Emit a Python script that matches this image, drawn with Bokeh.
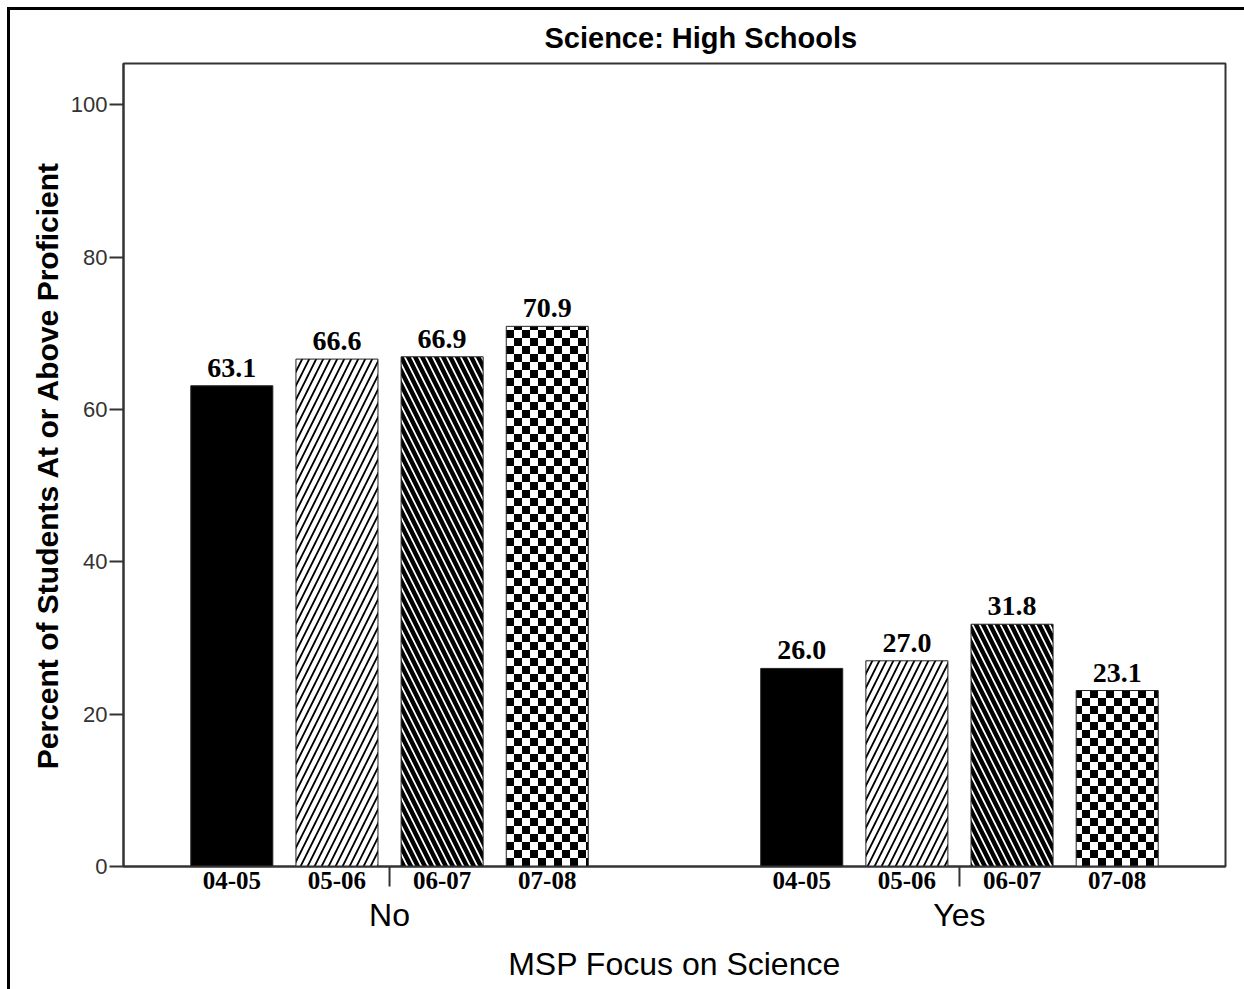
from bokeh.plotting import figure
from bokeh.models import FactorRange, Range1d, ColumnDataSource, CanvasTexture
from bokeh.core.properties import value
from bokeh.embed import file_html
from bokeh.resources import INLINE

# ---- data -------------------------------------------------------------
groups = ["No", "Yes"]
years = ["04-05", "05-06", "06-07", "07-08"]
pct_no = [63.1, 66.6, 66.9, 70.9]
pct_yes = [26.0, 27.0, 31.8, 23.1]
y_ticks = [0, 20, 40, 60, 80, 100]

# ---- styling per school year -------------------------------------------
fill_by_year = {"04-05": "black", "05-06": "white", "06-07": "black", "07-08": "white"}
hatch_by_year = {"04-05": "blank", "05-06": "right_diagonal_line",
                 "06-07": "left_diagonal_line", "07-08": "checker"}
hatch_color_by_year = {"04-05": "black", "05-06": "black", "06-07": "white", "07-08": "black"}
hatch_scale_by_year = {"04-05": 14, "05-06": 14, "06-07": 14, "07-08": 16}
hatch_weight_by_year = {"04-05": 1, "05-06": 1.8, "06-07": 1.8, "07-08": 1}

factors = [(g, yr) for g in groups for yr in years]
values = pct_no + pct_yes
yrs = [yr for _, yr in factors]

src = ColumnDataSource(dict(
    x=factors,
    top=values,
    label=[f"{v:.1f}" for v in values],
    fill=[fill_by_year[y] for y in yrs],
    hatch=[hatch_by_year[y] for y in yrs],
    hcolor=[hatch_color_by_year[y] for y in yrs],
    hscale=[hatch_scale_by_year[y] for y in yrs],
    hweight=[hatch_weight_by_year[y] for y in yrs],
))

# ---- geometry -----------------------------------------------------------
W, H = 1234, 979
LEFT, RIGHT, TOP, BOTTOM = 113, 19, 53, 123
Y_MAX = 105.4
FRAME_H = H - TOP - BOTTOM

x_range = FactorRange(*factors, factor_padding=0.0, group_padding=1.42,
                      range_padding=0.53, range_padding_units="absolute")

p = figure(x_range=x_range, y_range=Range1d(0, Y_MAX), width=W, height=H,
           output_backend="svg", toolbar_location=None,
           min_border_left=LEFT, min_border_right=RIGHT,
           min_border_top=TOP, min_border_bottom=BOTTOM)

# thin black page frame on the left and top
p.styles = {"margin-left": "10px", "margin-top": "10px",
            "box-shadow": "0 0 0 3px black"}

p.background_fill_color = "white"
p.border_fill_color = "white"
p.outline_line_color = "#333333"
p.outline_line_width = 2
p.grid.visible = False

# checkerboard texture (8 px cells)
checker = CanvasTexture(code="""
const c = ctx.canvas;
c.width = 16;
c.height = 16;
const g = c.getContext('2d');
g.setTransform(1, 0, 0, 1, 0, 0);
g.clearRect(0, 0, 16, 16);
g.fillStyle = '#000000';
g.fillRect(0, 0, 8, 8);
g.fillRect(8, 8, 8, 8);
""")

p.vbar(x="x", top="top", bottom=0, width=0.78, source=src,
       fill_color="fill", line_color="#222222", line_width=1,
       hatch_pattern="hatch", hatch_color="hcolor",
       hatch_scale="hscale", hatch_weight="hweight",
       hatch_extra={"checker": checker})

# value labels above bars
p.text(x="x", y="top", text="label", source=src,
       text_align="center", text_baseline="alphabetic", y_offset=-18,
       text_font=value("Liberation Serif"), text_font_style="bold",
       text_font_size="28px", text_color="black")

# tick mark at each group centre
TICK_PX = 20
tick_len = TICK_PX * Y_MAX / FRAME_H
p.segment(x0=groups, y0=[0, 0], x1=groups, y1=[-tick_len, -tick_len],
          line_color="#333333", line_width=2, level="overlay")

# ---- axes ---------------------------------------------------------------
xa = p.xaxis[0]
xa.axis_line_color = "#333333"
xa.axis_line_width = 2
xa.major_tick_line_color = None
xa.major_tick_out = 0
xa.major_tick_in = 0
xa.minor_tick_line_color = None
xa.major_label_text_font = "Liberation Serif"
xa.major_label_text_font_size = "25px"
xa.major_label_text_font_style = "bold"
xa.major_label_text_color = "black"
xa.major_label_standoff = 5
xa.separator_line_color = None
xa.group_text_font = "Liberation Sans"
xa.group_text_font_size = "32px"
xa.group_text_font_style = "normal"
xa.group_text_color = "black"
xa.axis_label = "MSP Focus on Science"
xa.axis_label_text_font = "Liberation Sans"
xa.axis_label_text_font_size = "32px"
xa.axis_label_text_font_style = "normal"
xa.axis_label_text_color = "black"
xa.axis_label_standoff = 10

ya = p.yaxis[0]
ya.ticker = y_ticks
ya.axis_line_color = "#333333"
ya.axis_line_width = 2
ya.major_tick_line_color = "#333333"
ya.major_tick_line_width = 2
ya.major_tick_out = 14
ya.major_tick_in = 0
ya.minor_tick_line_color = None
ya.major_label_standoff = 2
ya.major_label_text_font = "Liberation Sans"
ya.major_label_text_font_size = "22px"
ya.major_label_text_color = "#333333"
ya.axis_label = "Percent of Students At or Above Proficient"
ya.axis_label_text_font = "Liberation Sans"
ya.axis_label_text_font_size = "30px"
ya.axis_label_text_font_style = "bold"
ya.axis_label_text_color = "black"
ya.axis_label_standoff = 4

p.title.text = "Science: High Schools"
p.title.text_font = "Liberation Sans"
p.title.text_font_size = "29px"
p.title.text_font_style = "bold"
p.title.text_color = "black"
p.title.align = "left"
p.title.offset = 421
p.title.vertical_align = "middle"
p.title.standoff = 17

open("out.html", "w").write(file_html(p, INLINE))
